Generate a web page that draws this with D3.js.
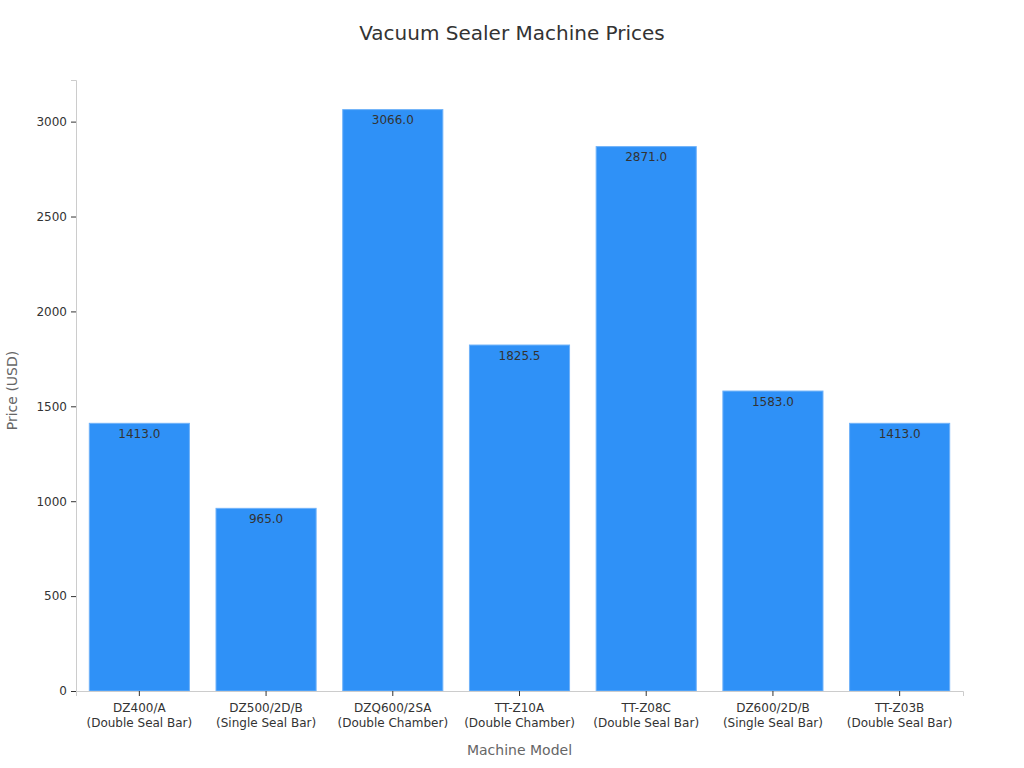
<!DOCTYPE html>
<html>
<head>
<meta charset="utf-8">
<script src="https://cdn.jsdelivr.net/npm/d3@7.9.0/dist/d3.min.js"></script>
<style>
  body { margin: 0; background: #fff; font-family: "DejaVu Sans", sans-serif; }
</style>
</head>
<body>
<svg id="chart" width="1024" height="768" font-family="DejaVu Sans"></svg>
<script>
const models = ['DZ400/A', 'DZ500/2D/B', 'DZQ600/2SA', 'TT-Z10A', 'TT-Z08C', 'DZ600/2D/B', 'TT-Z03B'];
const types = ['(Double Seal Bar)', '(Single Seal Bar)', '(Double Chamber)', '(Double Chamber)', '(Double Seal Bar)', '(Single Seal Bar)', '(Double Seal Bar)'];
const prices = [1413.0, 965.0, 3066.0, 1825.5, 2871.0, 1583.0, 1413.0];
const yTicks = [0, 500, 1000, 1500, 2000, 2500, 3000];

const margin = { top: 80, right: 61, bottom: 77, left: 76 };
const width = 1024 - margin.left - margin.right;
const height = 768 - margin.top - margin.bottom;

const svg = d3.select('#chart');
const g = svg.append('g').attr('transform', `translate(${margin.left},${margin.top})`);

const x = d3.scaleBand().domain(d3.range(models.length)).range([0, width]).paddingInner(0.21).paddingOuter(0.105);
const y = d3.scaleLinear().domain([0, d3.max(prices) * 1.05]).range([height, 0]);

// title
svg.append('text')
    .attr('x', 512).attr('y', 40)
    .attr('text-anchor', 'middle')
    .attr('font-size', 20)
    .attr('fill', '#333')
    .text('Vacuum Sealer Machine Prices');

// bars
g.selectAll('rect.bar')
    .data(prices)
    .join('rect')
    .attr('class', 'bar')
    .attr('x', (d, i) => x(i))
    .attr('y', d => y(d) + 0.5)
    .attr('width', x.bandwidth())
    .attr('height', d => height - y(d) - 0.5)
    .attr('fill', '#2f91f7')
    .attr('stroke', '#6fb2f9')
    .attr('stroke-width', 1);

// value labels
g.selectAll('text.val')
    .data(prices)
    .join('text')
    .attr('class', 'val')
    .attr('x', (d, i) => x(i) + x.bandwidth() / 2)
    .attr('y', d => y(d) + 15)
    .attr('text-anchor', 'middle')
    .attr('font-size', 12)
    .attr('fill', '#333')
    .text(d => d.toFixed(1));

// y axis
const yAxis = g.append('g')
    .call(d3.axisLeft(y).tickValues(yTicks).tickFormat(d3.format('d')).tickSize(5).tickPadding(4))
    .attr('font-family', 'DejaVu Sans');
yAxis.select('.domain').attr('stroke', '#ccc');
yAxis.selectAll('.tick line').attr('stroke', '#333');
yAxis.selectAll('.tick text').attr('font-size', 12).attr('fill', '#333');

// x axis
const xAxis = g.append('g')
    .attr('transform', `translate(0,${height})`)
    .call(d3.axisBottom(x).tickSize(5).tickFormat(''))
    .attr('font-family', 'DejaVu Sans');
xAxis.select('.domain').attr('stroke', '#ccc');
xAxis.selectAll('.tick line').attr('stroke', '#333');
xAxis.selectAll('.tick').each(function (d) {
    const t = d3.select(this).append('text')
        .attr('text-anchor', 'middle')
        .attr('font-size', 12)
        .attr('fill', '#333');
    t.append('tspan').attr('x', 0).attr('y', 21).text(models[d]);
    t.append('tspan').attr('x', 0).attr('y', 36).text(types[d]);
});

// axis titles
svg.append('text')
    .attr('x', margin.left + width / 2).attr('y', 755)
    .attr('text-anchor', 'middle')
    .attr('font-size', 14)
    .attr('fill', '#666')
    .text('Machine Model');

svg.append('text')
    .attr('transform', `translate(17,${margin.top + height / 2 + 5}) rotate(-90)`)
    .attr('text-anchor', 'middle')
    .attr('font-size', 14)
    .attr('fill', '#666')
    .text('Price (USD)');
</script>
</body>
</html>
